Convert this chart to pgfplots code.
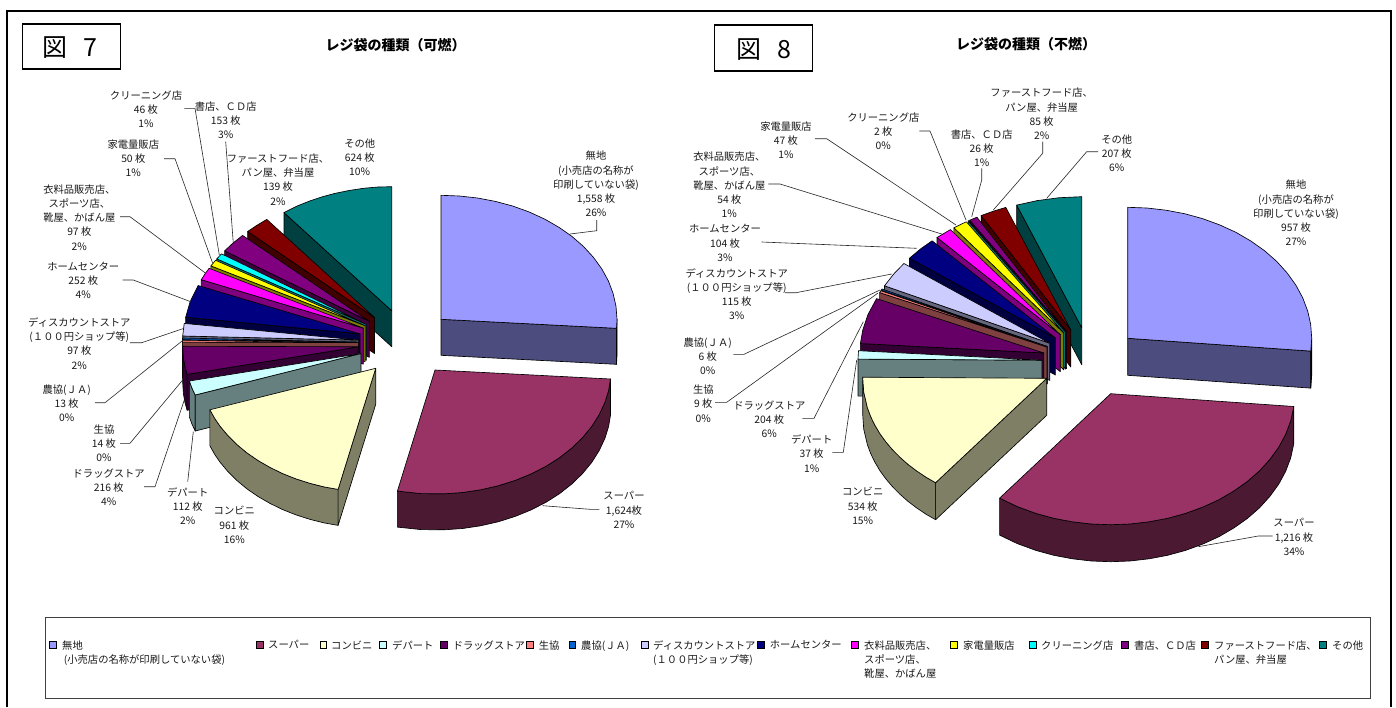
\documentclass[border=0pt]{standalone}
\usepackage{fontspec}
\setmainfont{Noto Sans CJK JP}
\usepackage{pgfplots}
\pgfplotsset{compat=1.18}
\definecolor{c1}{HTML}{9999FF}\definecolor{d1}{HTML}{4C4C7F}
\definecolor{c2}{HTML}{993366}\definecolor{d2}{HTML}{4C1933}
\definecolor{c3}{HTML}{FFFFCC}\definecolor{d3}{HTML}{7F7F66}
\definecolor{c4}{HTML}{CCFFFF}\definecolor{d4}{HTML}{667F7F}
\definecolor{c5}{HTML}{660066}\definecolor{d5}{HTML}{330033}
\definecolor{c6}{HTML}{FF8080}\definecolor{d6}{HTML}{7F4040}
\definecolor{c7}{HTML}{0066CC}\definecolor{d7}{HTML}{003366}
\definecolor{c8}{HTML}{CCCCFF}\definecolor{d8}{HTML}{66667F}
\definecolor{c9}{HTML}{000080}\definecolor{d9}{HTML}{000040}
\definecolor{c10}{HTML}{FF00FF}\definecolor{d10}{HTML}{7F007F}
\definecolor{c11}{HTML}{FFFF00}\definecolor{d11}{HTML}{7F7F00}
\definecolor{c12}{HTML}{00FFFF}\definecolor{d12}{HTML}{007F7F}
\definecolor{c13}{HTML}{800080}\definecolor{d13}{HTML}{400040}
\definecolor{c14}{HTML}{800000}\definecolor{d14}{HTML}{400000}
\definecolor{c15}{HTML}{008080}\definecolor{d15}{HTML}{004040}
\newcommand\poly[2]{\addplot[fill=#1,draw=black,line width=0.65pt,line join=round] coordinates {#2} -- cycle;}
\newcommand\lead[1]{\addplot[draw=black!85,line width=0.6pt] coordinates {#1};}
\newcommand\lbl[3]{\node[font=\fontsize{10.3}{14.2}\selectfont,align=center,inner sep=0pt,text=black!90] at (axis cs:#1,#2) {#3};}
\newcommand\key[3]{\addplot[only marks,mark=square*,mark size=3.2pt,mark options={fill=#1,draw=black,line width=0.7pt}] coordinates {(#2,#3)};}
\newcommand\ltx[3]{\node[font=\fontsize{10.3}{14.2}\selectfont,align=left,anchor=north west,inner sep=0pt,text=black!90] at (axis cs:#1,#2) {#3};}
\begin{document}
\begin{tikzpicture}
\begin{axis}[width=1396pt,height=707pt,scale only axis,xmin=0,xmax=1396,ymin=0,ymax=707,y dir=reverse,hide axis,clip=false]
\addplot[fill=white,draw=none] coordinates {(0,0)(1396,0)(1396,707)(0,707)} -- cycle;
% frame
\addplot[draw=black,line width=1.6pt] coordinates {(7,707)(7,11)(1391,11)(1391,707)};
\addplot[draw=black,line width=1.2pt] coordinates {(22.7,24)(120.7,24)(120.7,69)(22.7,69)} -- cycle;
\addplot[draw=black,line width=1.2pt] coordinates {(714.3,25)(812.7,25)(812.7,71)(714.3,71)} -- cycle;
\node[font=\fontsize{25}{28}\selectfont,inner sep=0pt] at (axis cs:69.5,47.5) {図\hspace{16pt}7};
\node[font=\fontsize{25}{28}\selectfont,inner sep=0pt] at (axis cs:764,49.5) {図\hspace{16pt}8};
\node[font=\fontsize{14}{16}\selectfont\bfseries,inner sep=0pt] at (axis cs:395.5,45) {レジ袋の種類（可燃）};
\node[font=\fontsize{14}{16}\selectfont\bfseries,inner sep=0pt] at (axis cs:1026,44.5) {レジ袋の種類（不燃）};

% ===== Figure 7 =====
\poly{d15}{(391.7,310.7)(284,212.6)(284,248.6)(391.7,346.7)}
\poly{c15}{(391.7,310.7)(284,212.6)(296,206.5)(309.1,201.2)(321.5,197)(334.4,193.5)(349,190.5)(364.2,188.2)(378,187)(391.7,186.7)}
\poly{d14}{(374.5,317.5)(247.7,231.5)(247.7,267.5)(374.5,353.5)}
\poly{c14}{(374.5,317.5)(247.7,231.5)(256.7,225.4)(266.8,219.4)}
\poly{d13}{(369.4,321.4)(224.6,250.9)(224.6,286.9)(369.4,357.4)}
\poly{c13}{(369.4,321.4)(224.6,250.9)(232.6,243.4)(242.6,235.4)}
\poly{d12}{(366.3,324.3)(216.8,258.9)(216.8,294.9)(366.3,360.3)}
\poly{c12}{(366.3,324.3)(216.8,258.9)(221.5,253.8)}
\poly{d11}{(365.1,325.7)(210.9,265.9)(210.9,301.9)(365.1,361.7)}
\poly{c11}{(365.1,325.7)(210.9,265.9)(215.6,260.3)}
\poly{d10}{(363.3,328.1)(201.3,279.7)(201.3,315.7)(363.3,364.1)}
\poly{c10}{(363.3,328.1)(201.3,279.7)(205.1,273.7)(209.1,268.3)}
\poly{d9}{(360.1,333.9)(185.7,317.2)(185.7,353.2)(360.1,369.9)}
\poly{c9}{(360.1,333.9)(185.7,317.2)(190.1,301.8)(198.1,285.5)}
\poly{d8}{(358.6,340.1)(182.7,336)(182.7,372)(358.6,376.1)}
\poly{c8}{(358.6,340.1)(182.7,336)(184.2,323.4)}
\poly{d7}{(358.4,342.1)(182.4,339.7)(182.4,375.7)(358.4,378.1)}
\poly{c7}{(358.4,342.1)(182.4,339.7)(182.5,338)}
\poly{d6}{(358.4,342.6)(182.4,342.1)(182.4,378.1)(358.4,378.6)}
\poly{c6}{(358.4,342.6)(182.4,342.1)(182.4,340.2)}
\poly{d5}{(187.1,374.25)(184.9,366.2)(183.4,357.6)(182.7,346.3)(182.7,382.3)(183.4,393.6)(184.9,402.2)(187.1,410.25)}
\poly{d5}{(358.7,346.75)(187.1,374.25)(187.1,410.25)(358.7,382.75)}
\poly{c5}{(358.7,346.75)(187.1,374.25)(184.9,366.2)(183.4,357.6)(182.7,346.3)}
\poly{d4}{(195.2,395)(191.8,387.7)(189.4,381)(189.4,417)(191.8,423.7)(195.2,431)}
\poly{d4}{(361,353.5)(195.2,395)(195.2,431)(361,389.5)}
\poly{c4}{(361,353.5)(195.2,395)(191.8,387.7)(189.4,381)}
\poly{d3}{(338.1,489.4)(324.2,486.9)(309.8,483.3)(295.8,478.8)(282.4,473.5)(269.8,467.3)(257.9,460.4)(247,452.9)(237,444.6)(228.1,435.8)(220.3,426.5)(214.9,418.7)(209.9,409.8)(209.9,445.8)(214.9,454.7)(220.3,462.5)(228.1,471.8)(237,480.6)(247,488.9)(257.9,496.4)(269.8,503.3)(282.4,509.5)(295.8,514.8)(309.8,519.3)(324.2,522.9)(338.1,525.4)}
\poly{d3}{(375.7,368.3)(338.1,489.4)(338.1,525.4)(375.7,404.3)}
\poly{c3}{(375.7,368.3)(338.1,489.4)(324.2,486.9)(309.8,483.3)(295.8,478.8)(282.4,473.5)(269.8,467.3)(257.9,460.4)(247,452.9)(237,444.6)(228.1,435.8)(220.3,426.5)(214.9,418.7)(209.9,409.8)}
\poly{d2}{(610.5,379)(608.6,390.5)(605,402.1)(599.3,414.4)(591.8,426.3)(582.6,437.5)(571.8,448)(559.5,457.7)(545.8,466.4)(530.9,474)(514.9,480.5)(498.1,485.8)(480.5,489.8)(462.5,492.5)(444.2,493.8)(421.2,493.6)(397.4,491.1)(397.4,527.1)(421.2,529.6)(444.2,529.8)(462.5,528.5)(480.5,525.8)(498.1,521.8)(514.9,516.5)(530.9,510)(545.8,502.4)(559.5,493.7)(571.8,484)(582.6,473.5)(591.8,462.3)(599.3,450.4)(605,438.1)(608.6,426.5)(610.5,415)}
\poly{c2}{(435,370)(610.5,379)(608.6,390.5)(605,402.1)(599.3,414.4)(591.8,426.3)(582.6,437.5)(571.8,448)(559.5,457.7)(545.8,466.4)(530.9,474)(514.9,480.5)(498.1,485.8)(480.5,489.8)(462.5,492.5)(444.2,493.8)(421.2,493.6)(397.4,491.1)}
\poly{d1}{(441,319.3)(616.5,328.3)(616.5,364.3)(441,355.3)}
\poly{d1}{(617,319.3)(617,355.3)(616.5,364.3)(616.5,328.3)}
\poly{c1}{(441,319.3)(441,195.3)(459.4,196)(477.6,198)(495.4,201.4)(512.6,206)(529,211.9)(544.5,219)(558.8,227.2)(571.8,236.3)(583.4,246.4)(593.4,257.3)(601.8,268.9)(608.4,281)(613.1,293.5)(616,306.3)(617,319.3)(616.5,328.3)}
% leaders 7
\lead{(570,234)(596.7,230.7)(596.7,220)}
\lead{(542.7,505.7)(590,509.3)(599.3,509.3)}
\lead{(187.7,481.7)(193.3,431.7)}
\lead{(144,486.7)(155,486.7)(184.3,400)}
\lead{(120,443.3)(130,443.3)(182.7,380)}
\lead{(95,402.7)(105,402.7)(183.3,340)}
\lead{(130,342.7)(141.7,342.7)(184,328.3)}
\lead{(122.7,280)(133.3,280)(190.7,301.7)}
\lead{(120,216.7)(130,216.7)(205.7,273.3)}
\lead{(164,158.7)(175,158.7)(212.7,263.3)}
\lead{(184.3,108.3)(195,108.3)(219.3,255)}
\lead{(225.7,141.7)(233.3,243.3)}
% labels 7
\lbl{596}{184}{無地\\(小売店の名称が\\印刷していない袋)\\1,558 枚\\26\%}
\lbl{624}{510}{スーパー\\1,624枚\\27\%}
\lbl{234.3}{525}{コンビニ\\961 枚\\16\%}
\lbl{187.7}{506}{デパート\\112 枚\\2\%}
\lbl{108.7}{487}{ドラッグストア\\216 枚\\4\%}
\lbl{104}{443}{生協\\14 枚\\0\%}
\lbl{66.7}{403.5}{農協(ＪＡ)\\13 枚\\0\%}
\lbl{79.3}{343.5}{ディスカウントストア\\(１００円ショップ等)\\97 枚\\2\%}
\lbl{83.3}{280.5}{ホームセンター\\252 枚\\4\%}
\lbl{79.3}{217.5}{衣料品販売店、\\スポーツ店、\\靴屋、かばん屋\\97 枚\\2\%}
\lbl{133.3}{158.5}{家電量販店\\50 枚\\1\%}
\lbl{146}{109.5}{クリーニング店\\46 枚\\1\%}
\lbl{225.7}{120}{書店、ＣＤ店\\153 枚\\3\%}
\lbl{278}{179.5}{ファーストフード店、\\パン屋、弁当屋\\139 枚\\2\%}
\lbl{359.7}{157}{その他\\624 枚\\10\%}

% ===== Figure 8 =====
\poly{d15}{(1081.7,327.7)(1016.7,205.1)(1016.7,242.1)(1081.7,364.7)}
\poly{c15}{(1081.7,327.7)(1016.7,205.1)(1037.2,200.6)(1059.3,197.7)(1081.7,196.7)}
\poly{d14}{(1070.8,330)(981.1,215.6)(981.1,252.6)(1070.8,367)}
\poly{c14}{(1070.8,330)(981.1,215.6)(993,211.3)(1005.8,207.4)}
\poly{d13}{(1066.6,331.6)(969.7,220.2)(969.7,257.2)(1066.6,368.6)}
\poly{c13}{(1066.6,331.6)(969.7,220.2)(976.9,217.2)}
\poly{d12}{(1065.5,332.1)(968.1,221)(968.1,258)(1065.5,369.1)}
\poly{c12}{(1065.5,332.1)(968.1,221)(968.6,220.7)}
\poly{d11}{(1063.8,332.9)(953.9,227.8)(953.9,264.8)(1063.8,369.9)}
\poly{c11}{(1063.8,332.9)(953.9,227.8)(960.9,224.3)(966.4,221.8)}
\poly{d10}{(1060.3,334.7)(937,237.5)(937,274.5)(1060.3,371.7)}
\poly{c10}{(1060.3,334.7)(937,237.5)(950.4,229.6)}
\poly{d9}{(1055.4,338)(909.5,258.2)(909.5,295.2)(1055.4,375)}
\poly{c9}{(1055.4,338)(909.5,258.2)(920.8,248.7)(932.1,240.8)}
\poly{d8}{(1049.8,343.3)(884.5,285.8)(884.5,322.8)(1049.8,380.3)}
\poly{c8}{(1049.8,343.3)(884.5,285.8)(893.8,273.9)(903.9,263.5)}
\poly{d7}{(1047.3,346.5)(881.2,290.2)(881.2,327.2)(1047.3,383.5)}
\poly{c7}{(1047.3,346.5)(881.2,290.2)(882,289)}
\poly{d6}{(1047,347)(879.6,292.6)(879.6,329.6)(1047,384)}
\poly{c6}{(1047,347)(879.6,292.6)(880.9,290.7)}
\poly{d5}{(1043.9,353)(860.4,343.5)(860.4,380.5)(1043.9,390)}
\poly{c5}{(1043.9,353)(860.4,343.5)(862.7,330.3)(867.9,314.7)(876.5,298.6)}
\poly{d4}{(1042,360.2)(858,359.1)(858,396.1)(1042,397.2)}
\poly{c4}{(1042,360.2)(858,359.1)(858.5,350.7)}
\poly{d3}{(935.6,482.7)(926,477.2)(916.6,470.9)(907.8,464.2)(899.8,457.1)(892.4,449.6)(885.8,441.8)(879.9,433.7)(874.9,425.2)(870.7,416.6)(867.4,407.8)(863.7,392)(862.7,377.2)(862.7,414.2)(863.7,429)(867.4,444.8)(870.7,453.6)(874.9,462.2)(879.9,470.7)(885.8,478.8)(892.4,486.6)(899.8,494.1)(907.8,501.2)(916.6,507.9)(926,514.2)(935.6,519.7)}
\poly{d3}{(1046.7,378.3)(935.6,482.7)(935.6,519.7)(1046.7,415.3)}
\poly{c3}{(1046.7,378.3)(935.6,482.7)(926,477.2)(916.6,470.9)(907.8,464.2)(899.8,457.1)(892.4,449.6)(885.8,441.8)(879.9,433.7)(874.9,425.2)(870.7,416.6)(867.4,407.8)(863.7,392)(862.7,377.2)}
\poly{d2}{(1293.8,406.5)(1290.7,420.9)(1285.7,434.2)(1278.8,447)(1270,459.2)(1259.6,470.7)(1247.4,481.4)(1233.8,491)(1218.9,499.7)(1202.7,507.1)(1185.5,513.4)(1167.6,518.3)(1149,521.8)(1129.9,524)(1110.7,524.7)(1091.5,524)(1072.4,521.8)(1053.8,518.3)(1035.9,513.4)(1017.3,506.6)(999.6,498.1)(999.6,535.1)(1017.3,543.6)(1035.9,550.4)(1053.8,555.3)(1072.4,558.8)(1091.5,561)(1110.7,561.7)(1129.9,561)(1149,558.8)(1167.6,555.3)(1185.5,550.4)(1202.7,544.1)(1218.9,536.7)(1233.8,528)(1247.4,518.4)(1259.6,507.7)(1270,496.2)(1278.8,484)(1285.7,471.2)(1290.7,457.9)(1293.8,443.5)}
\poly{c2}{(1110.7,393.7)(1293.8,406.5)(1290.7,420.9)(1285.7,434.2)(1278.8,447)(1270,459.2)(1259.6,470.7)(1247.4,481.4)(1233.8,491)(1218.9,499.7)(1202.7,507.1)(1185.5,513.4)(1167.6,518.3)(1149,521.8)(1129.9,524)(1110.7,524.7)(1091.5,524)(1072.4,521.8)(1053.8,518.3)(1035.9,513.4)(1017.3,506.6)(999.6,498.1)}
\poly{d1}{(1127.7,338.3)(1310.8,351.1)(1310.8,388.1)(1127.7,375.3)}
\poly{d1}{(1311.7,338.3)(1311.7,375.3)(1310.8,388.1)(1310.8,351.1)}
\poly{c1}{(1127.7,338.3)(1127.7,207.3)(1146.9,208)(1166,210.2)(1184.6,213.7)(1202.5,218.6)(1219.7,224.9)(1235.9,232.3)(1250.8,241)(1264.4,250.6)(1276.6,261.3)(1287,272.8)(1295.8,285)(1302.7,297.8)(1307.7,311.1)(1310.7,324.6)(1311.7,338.3)(1310.8,351.1)}
% leaders 8
\lead{(1198.3,546.7)(1258.3,536)(1272.7,536)}
\lead{(1046.7,198.3)(1086.7,151.7)(1098,151.7)}
\lead{(1042.7,141.7)(1042.7,153.3)(993.3,210)}
\lead{(981.7,168.3)(981.7,180)(971.7,216.7)}
\lead{(919.3,131)(930,131)(966,220)}
\lead{(815,138.7)(826.7,138.7)(956,225)}
\lead{(768.3,184)(780,184)(941.7,234)}
\lead{(761.7,242)(916.7,248.3)}
\lead{(785,292.7)(796,292.7)(891.7,274)}
\lead{(733.3,354.3)(744,354.3)(880,290)}
\lead{(715,402.3)(726.7,402.3)(878,293)}
\lead{(802.3,418.3)(814,418.3)(863.3,321.7)}
\lead{(832.3,452.3)(843.3,452.3)(856.7,360)}
% labels 8
\lbl{1296}{213}{無地\\(小売店の名称が\\印刷していない袋)\\957 枚\\27\%}
\lbl{1294}{537}{スーパー\\1,216 枚\\34\%}
\lbl{862.7}{506}{コンビニ\\534 枚\\15\%}
\lbl{811.7}{453.5}{デパート\\37 枚\\1\%}
\lbl{769.3}{419.5}{ドラッグストア\\204 枚\\6\%}
\lbl{703.3}{403.7}{生協\\9 枚\\0\%}
\lbl{707.7}{356}{農協(ＪＡ)\\6 枚\\0\%}
\lbl{736.7}{294}{ディスカウントストア\\(１００円ショップ等)\\115 枚\\3\%}
\lbl{725}{243}{ホームセンター\\104 枚\\3\%}
\lbl{729.3}{185}{衣料品販売店、\\スポーツ店、\\靴屋、かばん屋\\54 枚\\1\%}
\lbl{786}{140}{家電量販店\\47 枚\\1\%}
\lbl{883.3}{131.5}{クリーニング店\\2 枚\\0\%}
\lbl{981.7}{148}{書店、ＣＤ店\\26 枚\\1\%}
\lbl{1041.7}{114}{ファーストフード店、\\パン屋、弁当屋\\85 枚\\2\%}
\lbl{1116.7}{153}{その他\\207 枚\\6\%}

% ===== legend =====
\addplot[fill=white,draw=black!75,line width=0.9pt] coordinates {(45,617.7)(1370.3,617.7)(1370.3,698.3)(45,698.3)} -- cycle;
\key{c1}{53}{645}\ltx{62}{640.3}{無地\\\,(小売店の名称が印刷していない袋)}
\key{c2}{260}{645}\ltx{268}{640.3}{スーパー}
\key{c3}{323.5}{645}\ltx{331}{640.3}{コンビニ}
\key{c4}{383}{645}\ltx{392}{640.3}{デパート}
\key{c5}{444}{645}\ltx{452.6}{640.3}{ドラッグストア}
\key{c6}{530}{645}\ltx{538.7}{640.3}{生協}
\key{c7}{572.6}{645}\ltx{581}{640.3}{農協(ＪＡ)}
\key{c8}{645}{645}\ltx{653}{640.3}{ディスカウントストア\\(１００円ショップ等)}
\key{c9}{761}{645}\ltx{769.7}{640.3}{ホームセンター}
\key{c10}{855}{645}\ltx{864}{640.3}{衣料品販売店、\\スポーツ店、\\靴屋、かばん屋}
\key{c11}{954}{645}\ltx{963}{640.3}{家電量販店}
\key{c12}{1033}{645}\ltx{1041}{640.3}{クリーニング店}
\key{c13}{1125}{645}\ltx{1134}{640.3}{書店、ＣＤ店}
\key{c14}{1205}{645}\ltx{1214}{640.3}{ファーストフード店、\\パン屋、弁当屋}
\key{c15}{1322.7}{645}\ltx{1332}{640.3}{その他}
\end{axis}
\end{tikzpicture}
\end{document}
